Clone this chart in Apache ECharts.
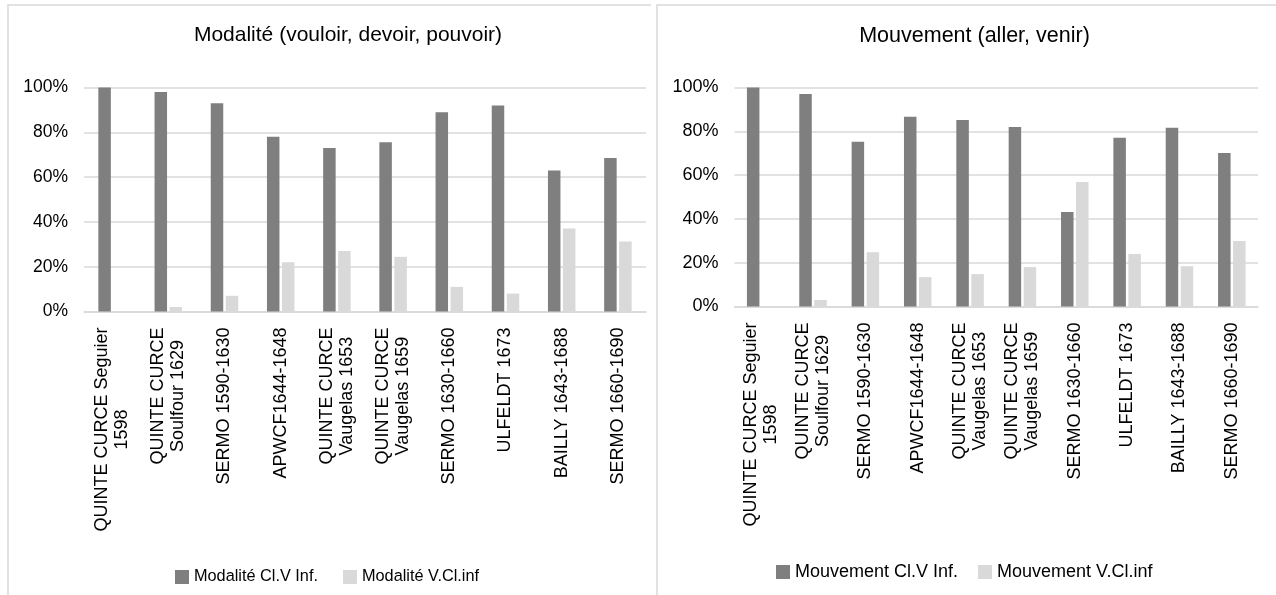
<!DOCTYPE html>
<html>
<head>
<meta charset="utf-8">
<script src="https://cdn.jsdelivr.net/npm/echarts@6/dist/echarts.min.js"></script>
<style>
  html, body { margin: 0; padding: 0; background: #fff; }
  #main { width: 1276px; height: 595px; }
</style>
</head>
<body>
<div id="main"></div>
<script>
  var categories = ['QUINTE CURCE Seguier\n1598', 'QUINTE CURCE\nSoulfour 1629', 'SERMO 1590-1630', 'APWCF1644-1648',
    'QUINTE CURCE\nVaugelas 1653', 'QUINTE CURCE\nVaugelas 1659', 'SERMO 1630-1660', 'ULFELDT 1673',
    'BAILLY 1643-1688', 'SERMO 1660-1690'];

  // pourcentages
  var modaliteClV = [100, 98, 93, 78, 73, 75.6, 89, 92, 63, 68.5];
  var modaliteVCl = [0, 2, 7, 22, 27, 24.4, 11, 8, 37, 31.2];
  var mouvementClV = [100, 97, 75.2, 86.6, 85.2, 82, 43.1, 77, 81.6, 70.1];
  var mouvementVCl = [0, 3, 24.8, 13.4, 14.8, 18, 56.9, 24, 18.4, 29.9];

  var yTicks = [0, 20, 40, 60, 80, 100];

  var font = 'Liberation Sans, Arial, sans-serif';
  var dark = '#7f7f7f';
  var light = '#d9d9d9';
  var gridColor = '#d9d9d9';

  function xAxisCfg(gridIndex) {
    return {
      type: 'category',
      gridIndex: gridIndex,
      data: categories,
      axisTick: { show: false },
      axisLine: { lineStyle: { color: gridColor, width: 1.5 } },
      axisLabel: {
        rotate: 90,
        margin: 16,
        interval: 0,
        // lignes centrées comme dans Excel
        formatter: function (v) {
          return v.split('\n').map(function (s) { return '{c|' + s + '}'; }).join('\n');
        },
        rich: {
          c: { align: 'center', color: '#000', fontFamily: font, fontSize: 18, lineHeight: 20 }
        }
      }
    };
  }

  function yAxisCfg(gridIndex, size) {
    return {
      type: 'value',
      gridIndex: gridIndex,
      min: yTicks[0],
      max: yTicks[yTicks.length - 1],
      interval: 20,
      axisLine: { show: false },
      axisTick: { show: false },
      splitLine: { lineStyle: { color: gridColor, width: 1.5 } },
      axisLabel: {
        margin: 16,
        color: '#000',
        fontFamily: font,
        fontSize: size,
        formatter: '{value}%'
      }
    };
  }

  function barSeries(name, data, color, idx) {
    return {
      name: name,
      type: 'bar',
      xAxisIndex: idx,
      yAxisIndex: idx,
      data: data,
      barWidth: 12.5,
      barGap: '20%',
      itemStyle: { color: color },
      emphasis: { disabled: true }
    };
  }

  var chart = echarts.init(document.getElementById('main'));
  chart.setOption({
    animation: false,
    title: [
      { text: 'Modalité (vouloir, devoir, pouvoir)', left: 343, top: 20, textAlign: 'center',
        textStyle: { fontFamily: font, fontSize: 21, fontWeight: 'normal', color: '#000' } },
      { text: 'Mouvement (aller, venir)', left: 969.5, top: 20, textAlign: 'center',
        textStyle: { fontFamily: font, fontSize: 21.5, fontWeight: 'normal', color: '#000' } }
    ],
    legend: [
      { left: 170, top: 564, icon: 'rect', itemWidth: 14, itemHeight: 14, itemGap: 25,
        data: ['Modalité Cl.V Inf.', 'Modalité V.Cl.inf'],
        textStyle: { fontFamily: font, fontSize: 16.3, color: '#000' } },
      { left: 771, top: 558, icon: 'rect', itemWidth: 14, itemHeight: 14, itemGap: 20,
        data: ['Mouvement Cl.V Inf.', 'Mouvement V.Cl.inf'],
        textStyle: { fontFamily: font, fontSize: 18, color: '#000' } }
    ],
    grid: [
      { left: 84, top: 87.5, width: 562, height: 224 },
      { left: 734.5, top: 87.5, width: 523.5, height: 219 }
    ],
    xAxis: [xAxisCfg(0), xAxisCfg(1)],
    yAxis: [yAxisCfg(0, 17.5), yAxisCfg(1, 18)],
    series: [
      barSeries('Modalité Cl.V Inf.', modaliteClV, dark, 0),
      barSeries('Modalité V.Cl.inf', modaliteVCl, light, 0),
      barSeries('Mouvement Cl.V Inf.', mouvementClV, dark, 1),
      barSeries('Mouvement V.Cl.inf', mouvementVCl, light, 1)
    ],
    graphic: [
      { type: 'polyline', silent: true,
        shape: { points: [[8, 600], [8, 5], [651, 5]] },
        style: { stroke: gridColor, lineWidth: 1.5, fill: null } },
      { type: 'polyline', silent: true,
        shape: { points: [[657, 600], [657, 5], [1280, 5]] },
        style: { stroke: gridColor, lineWidth: 1.5, fill: null } }
    ]
  });
</script>
</body>
</html>
